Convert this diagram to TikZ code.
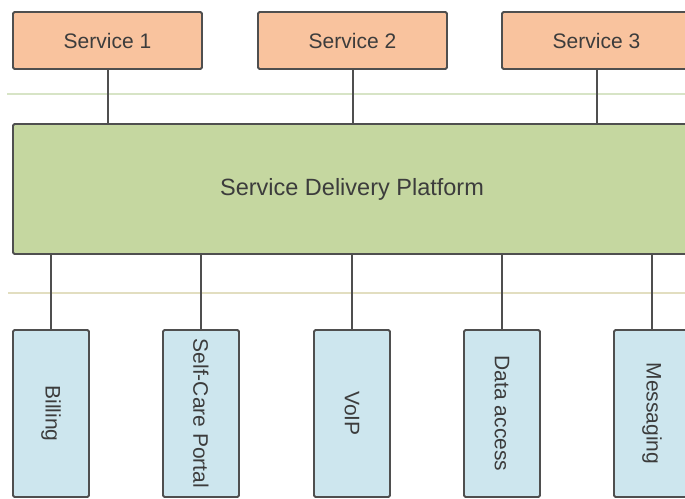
\documentclass[tikz,border=0pt]{standalone}
\usepackage{fontspec}
\setmainfont{Liberation Sans}
\definecolor{svcfill}{HTML}{F9C39E}
\definecolor{sdpfill}{HTML}{C5D7A0}
\definecolor{appfill}{HTML}{CDE6EE}
\definecolor{edge}{HTML}{4F4F4F}
\definecolor{txt}{HTML}{3C3C3C}
\definecolor{busgreen}{HTML}{D7E4C6}
\definecolor{bustan}{HTML}{E2DEC0}
\begin{document}
\begin{tikzpicture}[x=1pt,y=1pt,
	box/.style={draw=edge,line width=1.8pt,rounded corners=1.5pt,inner sep=0pt,text=txt},
	service/.style={box,fill=svcfill,minimum width=189pt,minimum height=57pt,font=\fontsize{21}{24}\selectfont},
	app/.style={box,fill=appfill,minimum width=76pt,minimum height=167pt},
	apptext/.style={rotate=-90,text=txt,font=\fontsize{21}{24}\selectfont},
	link/.style={draw=edge,line width=2pt}]
	
	\useasboundingbox (0,0) rectangle (685,498);
	\clip (0,0) rectangle (685,498);
	
	\draw[busgreen,line width=2pt] (7,404) -- (685,404);
	\draw[bustan,line width=2pt] (8,205) -- (685,205);
	
	\node[service] (s1) at (107.5,457.5) {Service 1};
	\node[service] (s2) at (352.5,457.5) {Service 2};
	\node[service] (s3) at (596.5,457.5) {Service 3};
	
	\node[box,fill=sdpfill,minimum width=678pt,minimum height=130pt,font=\fontsize{23.5}{26}\selectfont] (sdp) at (352,309) {Service Delivery Platform};
	
	\node[app] (billing) at (51,84.5) {};
	\node[app] (portal) at (201,84.5) {};
	\node[app] (voip) at (352,84.5) {};
	\node[app] (data) at (502,84.5) {};
	\node[app] (msg) at (652,84.5) {};
	\node[apptext] at (billing) {Billing};
	\node[apptext] at (portal) {Self-Care Portal};
	\node[apptext] at (voip) {VoIP};
	\node[apptext] at (data) {Data access};
	\node[apptext] at (msg) {Messaging};
	
	\draw[link] (s1.south) -- (s1.south |- sdp.north);
	\draw[link] (s2.south) -- (s2.south |- sdp.north);
	\draw[link] (s3.south) -- (s3.south |- sdp.north);
	
	\draw[link] (billing.north) -- (billing.north |- sdp.south);
	\draw[link] (portal.north) -- (portal.north |- sdp.south);
	\draw[link] (voip.north) -- (voip.north |- sdp.south);
	\draw[link] (data.north) -- (data.north |- sdp.south);
	\draw[link] (msg.north) -- (msg.north |- sdp.south);
\end{tikzpicture}
\end{document}
